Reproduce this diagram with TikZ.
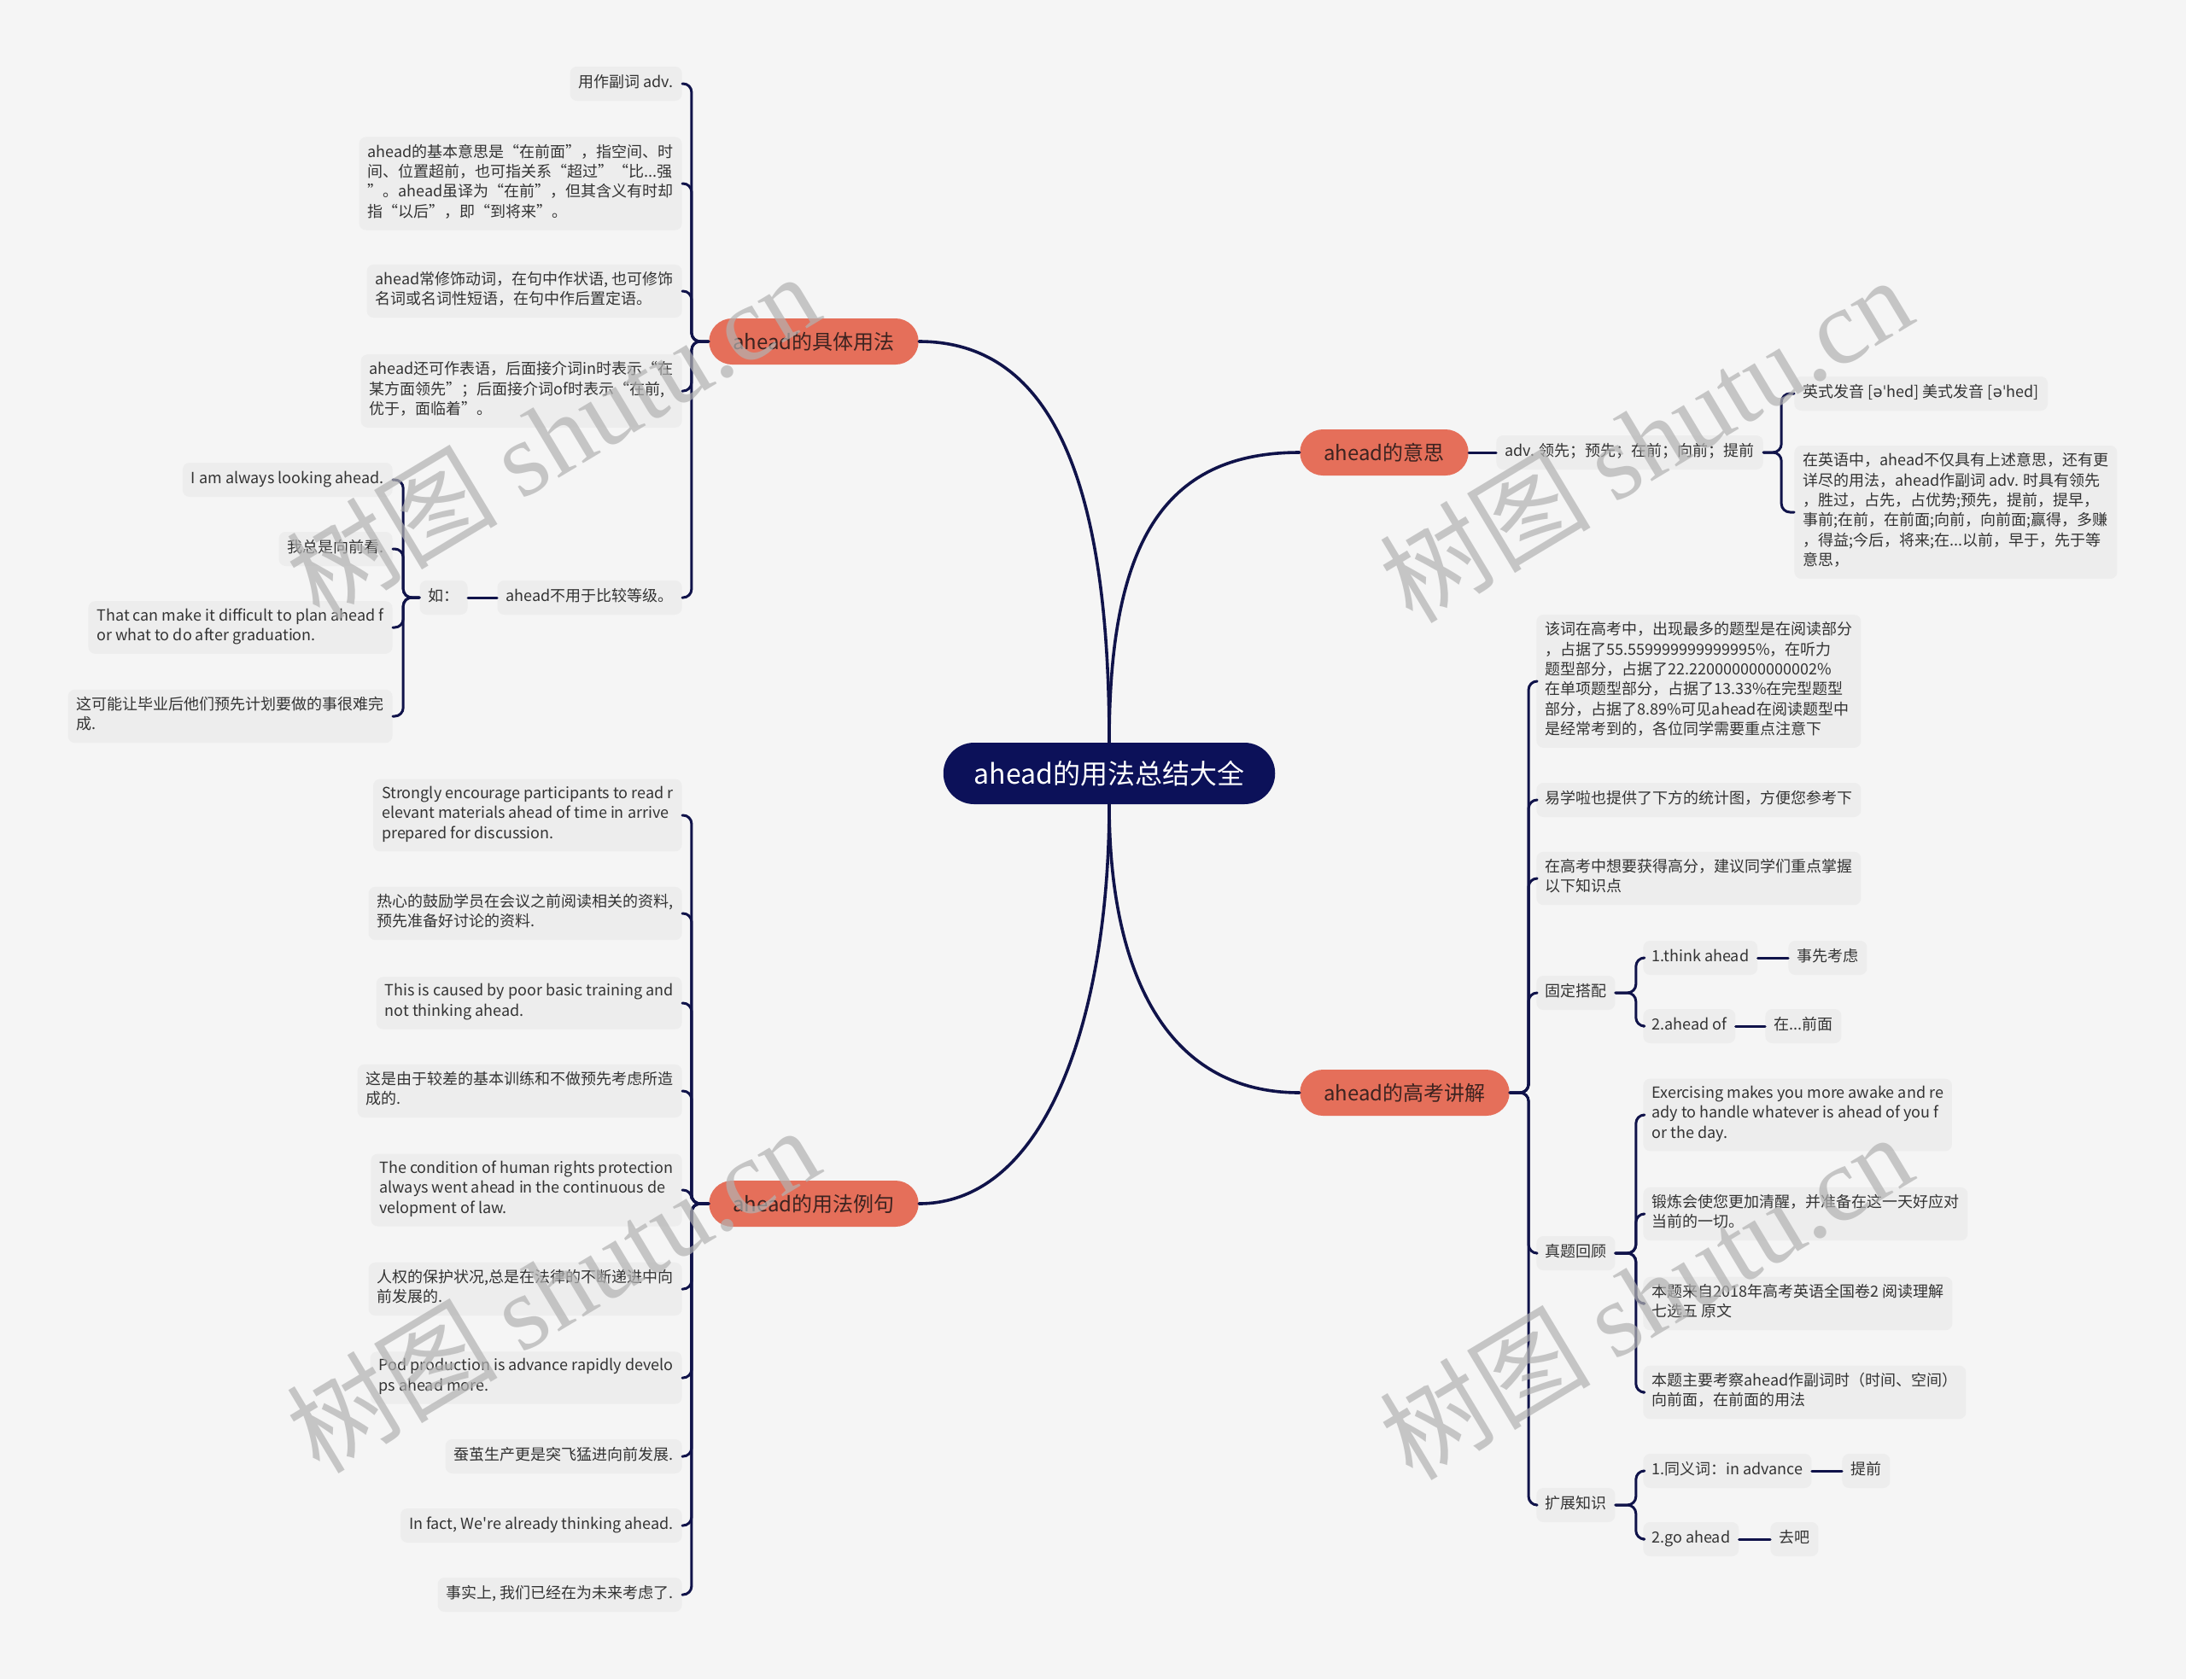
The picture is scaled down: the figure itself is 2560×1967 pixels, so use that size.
\documentclass[tikz,border=0pt]{standalone}
\usepackage{fontspec}
\setmainfont{Noto Sans CJK SC}[Ligatures=TeXOff]
\newfontfamily\ipafont{DejaVu Sans}
\newfontfamily\wmfont{Liberation Serif}

\definecolor{bgcol}{HTML}{F5F5F5}
\definecolor{leafcol}{HTML}{EDEDED}
\definecolor{leaftext}{HTML}{333333}
\definecolor{topiccol}{HTML}{E56F5A}
\definecolor{topictext}{HTML}{3C2320}
\definecolor{rootcol}{HTML}{0C1159}
\definecolor{linecol}{HTML}{10134A}

\tikzset{
  rootbox/.style={fill=rootcol, text=white, rounded corners=18pt, minimum height=36pt,
    inner xsep=18pt, font=\fontsize{16}{19}\selectfont},
  topic/.style={fill=topiccol, text=topictext, rounded corners=13.5pt, minimum height=27pt,
    inner xsep=14pt, font=\fontsize{12}{14}\selectfont},
  leafbox/.style={fill=leafcol, text=leaftext, rounded corners=4pt, align=left,
    inner xsep=5pt, inner ysep=4.15pt, font=\fontsize{9}{11.7}\selectfont,
    execute at begin node=\strut, execute at end node=\strut},
  conn/.style={draw=linecol, line width=1.5pt, rounded corners=5pt},
  trunk/.style={draw=linecol, line width=1.8pt},
  wmark/.style={rotate=31, text=black!30, opacity=0.7, font=\fontsize{62}{66}\selectfont}
}

\begin{document}
\begin{tikzpicture}[x=0.5pt,y=-0.5pt,line cap=round,line join=round]
\fill[bgcol] (0,0) rectangle (2560,1967);
\useasboundingbox (0,0) rectangle (2560,1967);

\node[rootbox] (root) at (1299,906) {ahead的用法总结大全};
\node[topic] (use) at (953,400) {ahead的具体用法};
\node[topic] (mean) at (1621,530) {ahead的意思};
\node[topic] (exam) at (1645,1280) {ahead的高考讲解};
\node[topic] (sent) at (953,1410) {ahead的用法例句};

% root to topics
\draw[trunk] (root.north) .. controls (1299,560) and (1230,400) .. (use.east);
\draw[trunk] (root.north) .. controls (1299,640) and (1360,530) .. (mean.west);
\draw[trunk] (root.south) .. controls (1299,1130) and (1360,1280) .. (exam.west);
\draw[trunk] (root.south) .. controls (1299,1180) and (1230,1410) .. (sent.east);

% ahead的具体用法
\node[leafbox,anchor=east] (u1) at (799,98) {用作副词 adv.};
\node[leafbox,anchor=east] (u2) at (799,215) {ahead的基本意思是“在前面”，指空间、时\\间、位置超前，也可指关系“超过”“比...强\\”。ahead虽译为“在前”，但其含义有时却\\指“以后”，即“到将来”。};
\node[leafbox,anchor=east] (u3) at (799,341) {ahead常修饰动词，在句中作状语, 也可修饰\\名词或名词性短语，在句中作后置定语。};
\node[leafbox,anchor=east] (u4) at (799,458) {ahead还可作表语，后面接介词in时表示“在\\某方面领先”；后面接介词of时表示“在前,\\优于，面临着”。};
\node[leafbox,anchor=east] (u5) at (799,700) {ahead不用于比较等级。};
\foreach \c in {u1,u2,u3,u4,u5}
  \draw[conn] (use.west) -- ++(-20,0) |- (\c.east);

\node[leafbox,anchor=east] (ru) at (548,700) {如：};
\draw[conn] (u5.west) -- (ru.east);
\node[leafbox,anchor=east] (r1) at (460,562) {I am always looking ahead.};
\node[leafbox,anchor=east] (r2) at (460,643) {我总是向前看.};
\node[leafbox,anchor=east] (r3) at (460,735) {That can make it difficult to plan ahead f\\or what to do after graduation.};
\node[leafbox,anchor=east] (r4) at (460,839) {这可能让毕业后他们预先计划要做的事很难完\\成.};
\foreach \c in {r1,r2,r3,r4}
  \draw[conn] (ru.west) -- ++(-19,0) |- (\c.east);

% ahead的用法例句
\node[leafbox,anchor=east] (s1) at (799,955) {Strongly encourage participants to read r\\elevant materials ahead of time in arrive\\prepared for discussion.};
\node[leafbox,anchor=east] (s2) at (799,1070) {热心的鼓励学员在会议之前阅读相关的资料,\\预先准备好讨论的资料.};
\node[leafbox,anchor=east] (s3) at (799,1175) {This is caused by poor basic training and\\not thinking ahead.};
\node[leafbox,anchor=east] (s4) at (799,1278) {这是由于较差的基本训练和不做预先考虑所造\\成的.};
\node[leafbox,anchor=east] (s5) at (799,1394) {The condition of human rights protection\\ always went ahead in the continuous de\\velopment of law.};
\node[leafbox,anchor=east] (s6) at (799,1510) {人权的保护状况,总是在法律的不断递进中向\\前发展的.};
\node[leafbox,anchor=east] (s7) at (799,1614) {Pod production is advance rapidly develo\\ps ahead more.};
\node[leafbox,anchor=east] (s8) at (799,1706) {蚕茧生产更是突飞猛进向前发展.};
\node[leafbox,anchor=east] (s9) at (799,1787) {In fact, We're already thinking ahead.};
\node[leafbox,anchor=east] (s10) at (799,1868) {事实上, 我们已经在为未来考虑了.};
\foreach \c in {s1,s2,s3,s4,s5,s6,s7,s8,s9,s10}
  \draw[conn] (sent.west) -- ++(-20,0) |- (\c.east);

% ahead的意思
\node[leafbox,anchor=west] (adv) at (1752,530) {adv. 领先；预先；在前；向前；提前};
\draw[conn] (mean.east) -- (adv.west);
\node[leafbox,anchor=west] (m1) at (2101,461) {英式发音 [{\ipafont əˈ}hed] 美式发音 [{\ipafont əˈ}hed]};
\node[leafbox,anchor=west] (m2) at (2101,600) {在英语中，ahead不仅具有上述意思，还有更\\详尽的用法，ahead作副词 adv. 时具有领先\\，胜过，占先，占优势;预先，提前，提早，\\事前;在前，在前面;向前，向前面;赢得，多赚\\，得益;今后，将来;在...以前，早于，先于等\\意思，};
\foreach \c in {m1,m2}
  \draw[conn] (adv.east) -- ++(21,0) |- (\c.west);

% ahead的高考讲解
\node[leafbox,anchor=west] (k1) at (1799,798) {该词在高考中，出现最多的题型是在阅读部分\\，占据了55.559999999999995\%，在听力\\题型部分，占据了22.220000000000002\%\\在单项题型部分，占据了13.33\%在完型题型\\部分，占据了8.89\%可见ahead在阅读题型中\\是经常考到的，各位同学需要重点注意下};
\node[leafbox,anchor=west] (k2) at (1799,937) {易学啦也提供了下方的统计图，方便您参考下};
\node[leafbox,anchor=west] (k3) at (1799,1029) {在高考中想要获得高分，建议同学们重点掌握\\以下知识点};
\node[leafbox,anchor=west] (k4) at (1799,1163) {固定搭配};
\node[leafbox,anchor=west] (k5) at (1799,1468) {真题回顾};
\node[leafbox,anchor=west] (k6) at (1799,1763) {扩展知识};
\foreach \c in {k1,k2,k3,k4,k5,k6}
  \draw[conn] (exam.east) -- ++(22,0) |- (\c.west);

\node[leafbox,anchor=west] (g1) at (1924,1122) {1.think ahead};
\node[leafbox,anchor=west] (g1a) at (2094,1122) {事先考虑};
\node[leafbox,anchor=west] (g2) at (1924,1202) {2.ahead of};
\node[leafbox,anchor=west] (g2a) at (2067,1202) {在...前面};
\foreach \c in {g1,g2}
  \draw[conn] (k4.east) -- ++(24,0) |- (\c.west);
\draw[conn] (g1.east) -- (g1a.west);
\draw[conn] (g2.east) -- (g2a.west);

\node[leafbox,anchor=west] (h1) at (1924,1306) {Exercising makes you more awake and re\\ady to handle whatever is ahead of you f\\or the day.};
\node[leafbox,anchor=west] (h2) at (1924,1422) {锻炼会使您更加清醒，并准备在这一天好应对\\当前的一切。};
\node[leafbox,anchor=west] (h3) at (1924,1527) {本题来自2018年高考英语全国卷2 阅读理解\\七选五 原文};
\node[leafbox,anchor=west] (h4) at (1924,1631) {本题主要考察ahead作副词时（时间、空间）\\向前面，在前面的用法};
\foreach \c in {h1,h2,h3,h4}
  \draw[conn] (k5.east) -- ++(24,0) |- (\c.west);

\node[leafbox,anchor=west] (x1) at (1924,1723) {1.同义词：in advance};
\node[leafbox,anchor=west] (x1a) at (2157,1723) {提前};
\node[leafbox,anchor=west] (x2) at (1924,1803) {2.go ahead};
\node[leafbox,anchor=west] (x2a) at (2073,1803) {去吧};
\foreach \c in {x1,x2}
  \draw[conn] (k6.east) -- ++(24,0) |- (\c.west);
\draw[conn] (x1.east) -- (x1a.west);
\draw[conn] (x2.east) -- (x2a.west);

% watermark
\foreach \wx/\wy [count=\i] in {647/510,1927/514,647/1510,1927/1518}
  \node[wmark] (wm\i) at (\wx,\wy) {树图 {\wmfont shutu.cn}};
\end{tikzpicture}
\end{document}
